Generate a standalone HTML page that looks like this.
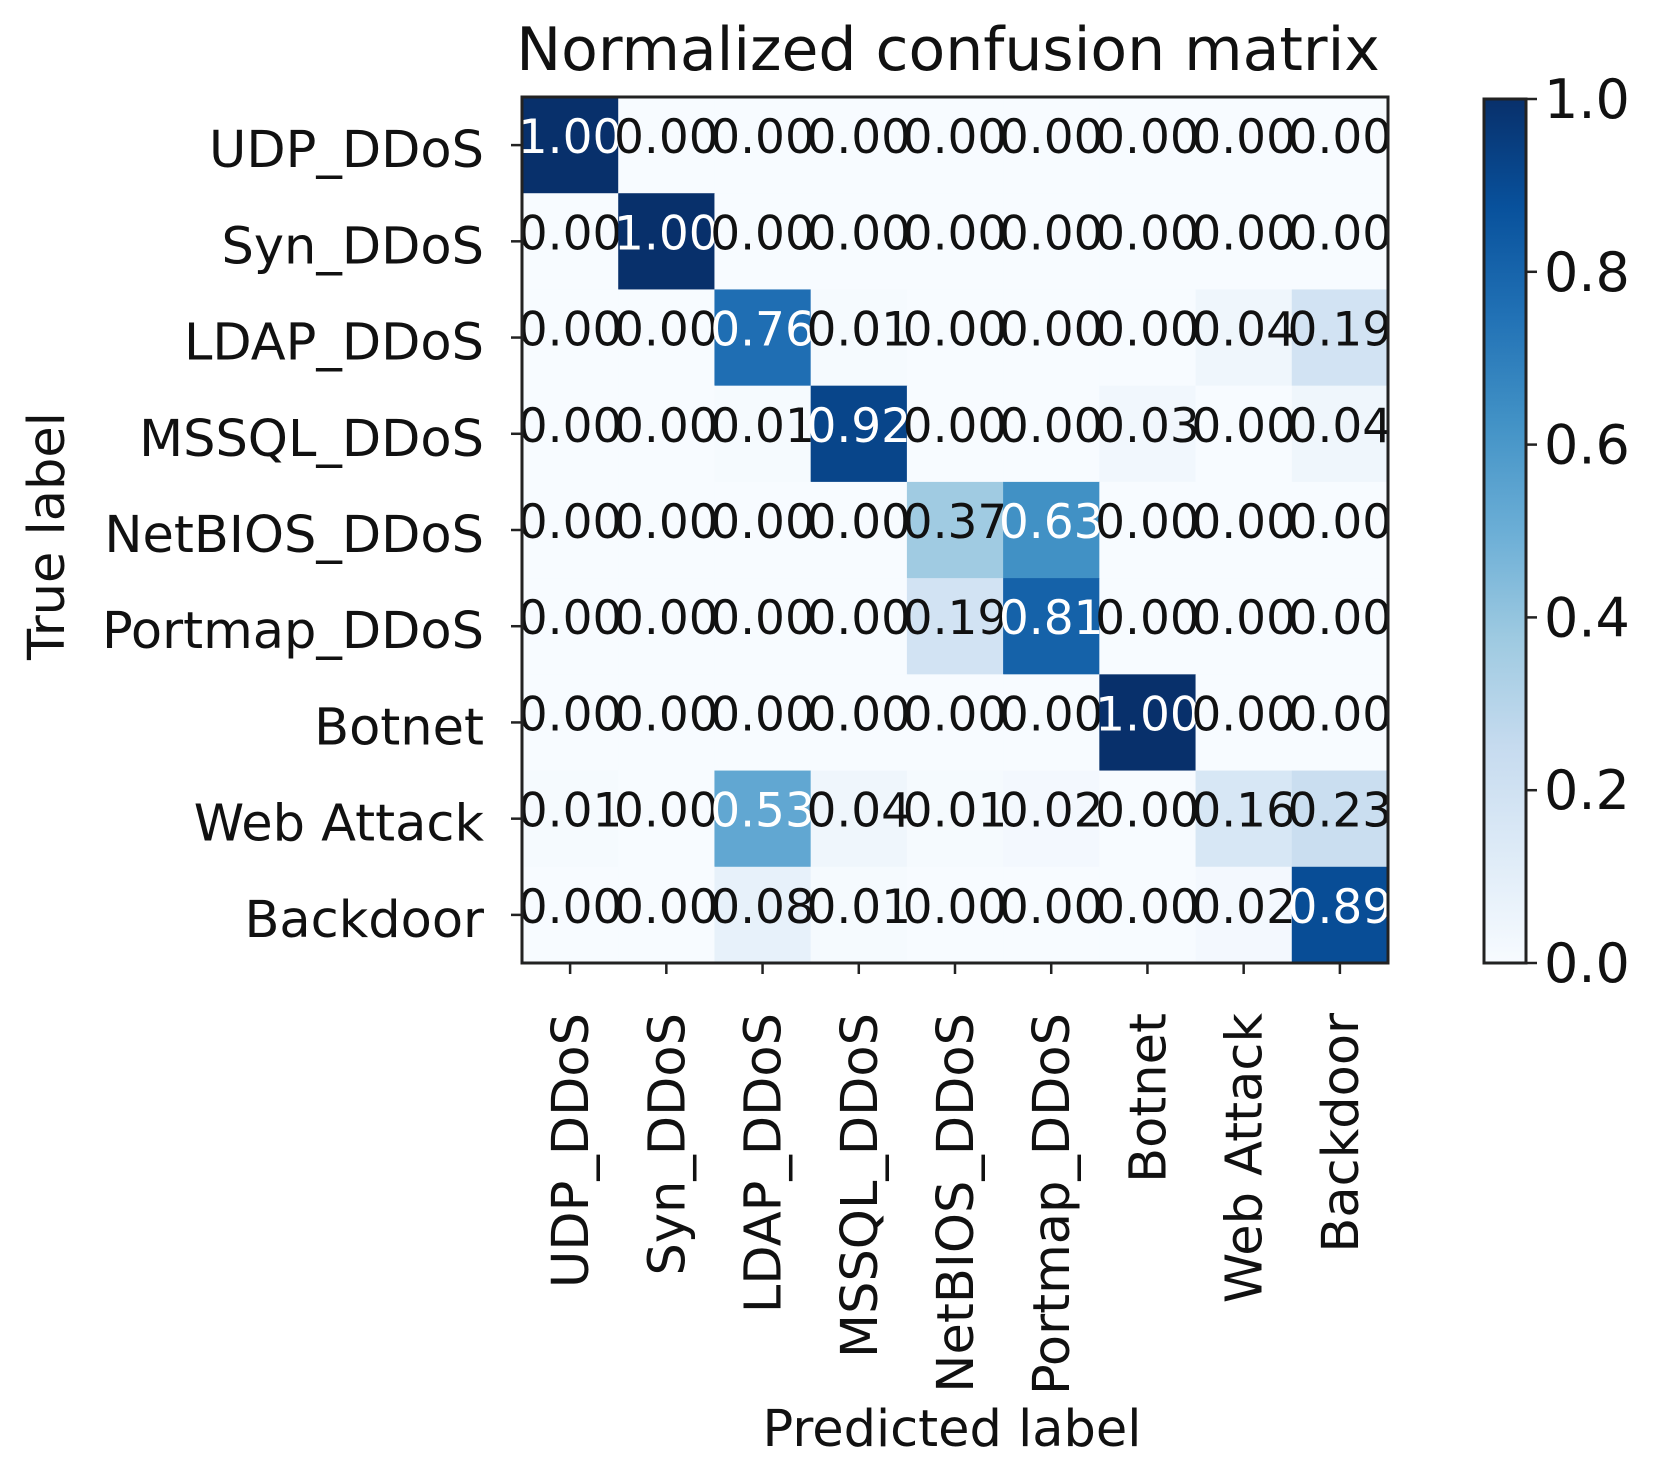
<!DOCTYPE html>
<html><head><meta charset="utf-8"><style>
html,body{margin:0;padding:0;background:#fff;}
svg{display:block;font-family:"DejaVu Sans","Liberation Sans",sans-serif;}
</style></head><body>
<svg id="chart" width="1664" height="1474" viewBox="0 0 1664 1474">
<defs><linearGradient id="cbg" x1="0" y1="1" x2="0" y2="0">
<stop offset="0" stop-color="#f7fbff"/><stop offset="0.125" stop-color="#deebf7"/><stop offset="0.25" stop-color="#c6dbef"/><stop offset="0.375" stop-color="#9ecae1"/><stop offset="0.5" stop-color="#6baed6"/><stop offset="0.625" stop-color="#4292c6"/><stop offset="0.75" stop-color="#2171b5"/><stop offset="0.875" stop-color="#08519c"/><stop offset="1" stop-color="#08306b"/></linearGradient></defs>
<text x="948" y="70" font-size="60" text-anchor="middle" fill="#111">Normalized confusion matrix</text>
<g id="cells"></g>
<g id="ylabels"></g>
<g id="xlabels"></g>
<rect x="522" y="97" width="866" height="866" fill="none" stroke="#222" stroke-width="3"/>
<text x="952" y="1446" font-size="51" text-anchor="middle" fill="#111">Predicted label</text>
<text transform="translate(64,536) rotate(-90)" font-size="51" text-anchor="middle" fill="#111">True label</text>
<rect x="1484" y="99" width="42" height="864" fill="url(#cbg)" stroke="#222" stroke-width="3"/>
<g id="cbticks"></g>
</svg>
<script>
const labels = ["UDP_DDoS","Syn_DDoS","LDAP_DDoS","MSSQL_DDoS","NetBIOS_DDoS","Portmap_DDoS","Botnet","Web Attack","Backdoor"];
const row0 = [1.00,0,0,0,0,0,0,0,0];
const row1 = [0,1.00,0,0,0,0,0,0,0];
const row2 = [0,0,0.76,0.01,0,0,0,0.04,0.19];
const row3 = [0,0,0.01,0.92,0,0,0.03,0,0.04];
const row4 = [0,0,0,0,0.37,0.63,0,0,0];
const row5 = [0,0,0,0,0.19,0.81,0,0,0];
const row6 = [0,0,0,0,0,0.00,1.00,0,0];
const row7 = [0.01,0,0.53,0.04,0.01,0.02,0,0.16,0.23];
const row8 = [0,0,0.08,0.01,0,0,0,0.02,0.89];
const cbTicks = [0.0,0.2,0.4,0.6,0.8,1.0];
const matrix = [row0,row1,row2,row3,row4,row5,row6,row7,row8];

const NS="http://www.w3.org/2000/svg";
const X0=522,Y0=97,W=866,H=866,n=labels.length,cw=W/n,ch=H/n;
const stops=[[247,251,255],[222,235,247],[198,219,239],[158,202,225],[107,174,214],[66,146,198],[33,113,181],[8,81,156],[8,48,107]];
function blues(v){v=Math.max(0,Math.min(1,v));const p=v*8,i=Math.min(7,Math.floor(p)),f=p-i;const a=stops[i],b=stops[i+1];
return `rgb(${a.map((c,k)=>Math.round(c+(b[k]-c)*f)).join(",")})`;}
function xs(j){return X0+j*cw;} function ys(i){return Y0+i*ch;}
function mk(t,attrs,parent){const e=document.createElementNS(NS,t);for(const k in attrs)e.setAttribute(k,attrs[k]);parent.appendChild(e);return e;}
const cells=document.getElementById('cells');
matrix.forEach((row,i)=>row.forEach((v,j)=>{
 const r=mk('rect',{x:xs(j),y:ys(i),width:cw+0.5,height:ch+0.5,fill:blues(v)},cells);
 
 
 const t=mk('text',{x:xs(j)+cw/2,y:ys(i)+ch/2+8,'font-size':47,'text-anchor':'middle',fill:v>0.5?'#fff':'#111'},cells);
 t.textContent=v.toFixed(2);
 
 
}));
const yl=document.getElementById('ylabels');
labels.forEach((l,i)=>{
 const cy=ys(i)+ch/2;
 const tk=mk('line',{x1:X0-11,x2:X0,y1:cy,y2:cy,stroke:'#222','stroke-width':2.5},yl);
 
 
 const t=mk('text',{x:X0-38,y:cy+22,'font-size':51,'text-anchor':'end',fill:'#111'},yl);
 t.textContent=l;
 
 
});
const xl=document.getElementById('xlabels');
labels.forEach((l,j)=>{
 const cx=xs(j)+cw/2;
 const tk=mk('line',{x1:cx,x2:cx,y1:Y0+H,y2:Y0+H+11,stroke:'#222','stroke-width':2.5},xl);
 
 
 const t=mk('text',{transform:`translate(${cx+18},1013) rotate(-90)`,'font-size':51,'text-anchor':'end',fill:'#111'},xl);
 t.textContent=l;
 
 
});
const cb=document.getElementById('cbticks');
cbTicks.forEach(v=>{
 const y=963-v*864;
 const tk=mk('line',{x1:1526,x2:1537,y1:y,y2:y,stroke:'#222','stroke-width':2.5},cb);
 
 
 const t=mk('text',{x:1544,y:y+19,'font-size':54,fill:'#111'},cb);
 t.textContent=v.toFixed(1);
 
 
});
</script>
</body></html>
